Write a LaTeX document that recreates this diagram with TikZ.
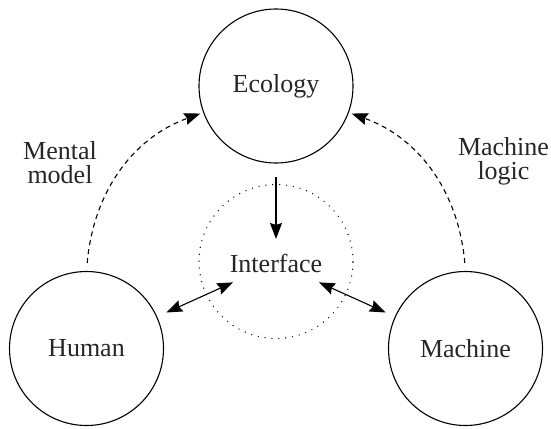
\documentclass[tikz,border=0pt]{standalone}
\usepackage{fontspec}
\setmainfont{Liberation Serif}
\usetikzlibrary{arrows.meta}
\begin{document}
\begin{tikzpicture}[x=1pt,y=-1pt,
  every node/.style={font=\fontsize{26}{24}\selectfont, text=black!85},
  bigcirc/.style={draw=black, circle, line width=1.1pt, minimum size=154pt, inner sep=0pt},
  dotcirc/.style={draw=black, circle, line width=1.4pt, minimum size=154pt, inner sep=0pt, line cap=round, dash pattern=on 0pt off 6.9pt},
  tip/.tip={Stealth[length=16pt,width=12pt,inset=2pt]},
  conn/.style={line width=1.1pt, draw=black},
  dashconn/.style={conn, dash pattern=on 5pt off 4pt, -tip}
]
\useasboundingbox (0,0) rectangle (551,428);
\node[dotcirc] (dot) at (276,261.5) {};
\node[bigcirc] (eco) at (276,86) {Ecology};
\node[bigcirc] (hum) at (86.5,348.5) {Human};
\node[bigcirc] (mac) at (465.5,348.5) {Machine};
\node[inner sep=0pt] (iface) at (276,263) {Interface};
\node[align=center, inner sep=0pt] (mm) at (60,162.5) {Mental\\model};
\node[align=center, inner sep=0pt] (ml) at (503.5,161.5) {Machine\\logic};
\draw[conn, -tip, shorten <=13pt, shorten >=24pt] (eco) -- (iface.center);
\draw[conn, tip-tip, shorten <=10pt, shorten >=47pt] (hum) -- (iface.center);
\draw[conn, tip-tip, shorten <=10pt, shorten >=47pt] (mac) -- (iface.center);
\draw[dashconn, shorten <=8pt, shorten >=3pt] (hum.north) to[out=85,in=200] (eco);
\draw[dashconn, shorten <=8pt, shorten >=3pt] (mac.north) to[out=95,in=-20] (eco);
\end{tikzpicture}
\end{document}
